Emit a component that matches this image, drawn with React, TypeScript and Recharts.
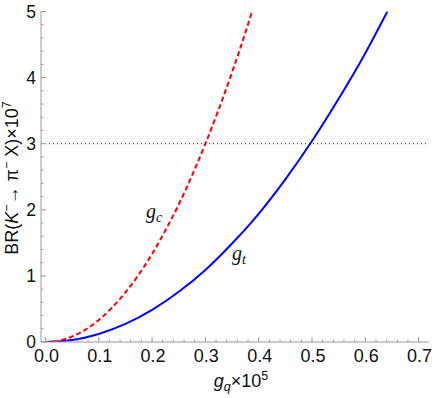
import React from 'react';
import { LineChart, Line, XAxis, YAxis, ReferenceLine, ReferenceDot } from 'recharts';

// g_c (red dashed) curve
const gcX = [0, 0.025, 0.05, 0.075, 0.1, 0.125, 0.15, 0.175, 0.2, 0.225, 0.25, 0.275, 0.3, 0.325, 0.35, 0.375, 0.3875];
const gcY = [0, 0.021, 0.083, 0.187, 0.333, 0.52, 0.75, 1.02, 1.33, 1.69, 2.08, 2.52, 3.0, 3.52, 4.08, 4.68, 5.0];

// g_t (blue solid) curve
const gtX = [0, 0.05, 0.1, 0.15, 0.2, 0.25, 0.3, 0.35, 0.4, 0.45, 0.5, 0.55, 0.6, 0.6415];
const gtY = [0, 0.03, 0.122, 0.273, 0.486, 0.76, 1.09, 1.49, 1.94, 2.46, 3.04, 3.68, 4.37, 5.0];

const refLevel = 3;

const xTicks = [0, 0.02, 0.04, 0.06, 0.08, 0.1, 0.12, 0.14, 0.16, 0.18, 0.2, 0.22, 0.24, 0.26, 0.28, 0.3, 0.32, 0.34, 0.36, 0.38, 0.4, 0.42, 0.44, 0.46, 0.48, 0.5, 0.52, 0.54, 0.56, 0.58, 0.6, 0.62, 0.64, 0.66, 0.68, 0.7];
const xMajorTicks = [0, 0.1, 0.2, 0.3, 0.4, 0.5, 0.6, 0.7];
const xMajorLabels = ['0.0', '0.1', '0.2', '0.3', '0.4', '0.5', '0.6', '0.7'];
const yTicks = [0, 0.2, 0.4, 0.6, 0.8, 1, 1.2, 1.4, 1.6, 1.8, 2, 2.2, 2.4, 2.6, 2.8, 3, 3.2, 3.4, 3.6, 3.8, 4, 4.2, 4.4, 4.6, 4.8, 5];
const yMajorTicks = [0, 1, 2, 3, 4, 5];
const yMajorLabels = ['0', '1', '2', '3', '4', '5'];

const xDomain = [-0.0084, 0.7195];
const yDomain = [0, 5];

const gcLabelPos = { x: 0.1886, y: 1.873 };
const gtLabelPos = { x: 0.35, y: 1.239 };

const gcData = gcX.map((x, i) => ({ x, y: gcY[i] }));
const gtData = gtX.map((x, i) => ({ x, y: gtY[i] }));

const FRAME = '#9a9a9a';
const SANS = '"Liberation Sans", Arial, sans-serif';
const SERIF = '"Liberation Serif", "Times New Roman", serif';
const MAJ = 5;
const MIN = 2.5;

const xMajorIndex = (v: number) => xMajorTicks.findIndex((t) => Math.abs(t - v) < 1e-6);
const yMajorIndex = (v: number) => yMajorTicks.findIndex((t) => Math.abs(t - v) < 1e-6);

const XTickBottom = (props: any) => {
  const { x, y, payload } = props;
  const idx = xMajorIndex(payload.value);
  const len = idx >= 0 ? MAJ : MIN;
  return (
    <g>
      <line x1={x} x2={x} y1={y} y2={y - len} stroke={FRAME} strokeWidth={1} />
      {idx >= 0 && (
        <text x={x + 1} y={y + 19.5} textAnchor="middle" fontFamily={SANS} fontSize={18} fill="#111">
          {xMajorLabels[idx]}
        </text>
      )}
    </g>
  );
};

const XTickTop = (props: any) => {
  const { x, y, payload } = props;
  const idx = xMajorIndex(payload.value);
  const len = idx >= 0 ? MAJ : MIN;
  return <line x1={x} x2={x} y1={y} y2={y + len} stroke={FRAME} strokeWidth={1} />;
};

const YTickLeft = (props: any) => {
  const { x, y, payload } = props;
  const idx = yMajorIndex(payload.value);
  const len = idx >= 0 ? MAJ : MIN;
  return (
    <g>
      <line x1={x} x2={x + len} y1={y} y2={y} stroke={FRAME} strokeWidth={1} />
      {idx >= 0 && (
        <text x={x - 5} y={y + 6} textAnchor="end" fontFamily={SANS} fontSize={17.5} fill="#111">
          {yMajorLabels[idx]}
        </text>
      )}
    </g>
  );
};

const YTickRight = (props: any) => {
  const { x, y, payload } = props;
  const idx = yMajorIndex(payload.value);
  const len = idx >= 0 ? MAJ : MIN;
  return <line x1={x} x2={x - len} y1={y} y2={y} stroke={FRAME} strokeWidth={1} />;
};

const YTitle = () => (
  <text transform="translate(17.5,178) rotate(-90)" textAnchor="middle" fontFamily={SANS} fontSize={18} fill="#111">
    BR(<tspan fontStyle="italic">K</tspan>
    <tspan dy={-7} fontSize={12.5}>−</tspan>
    <tspan dy={7}>→ π</tspan>
    <tspan dy={-7} fontSize={12.5}>−</tspan>
    <tspan dy={7}> X)×10</tspan>
    <tspan dy={-7} fontSize={12.5}>7</tspan>
  </text>
);

const XTitle = () => (
  <text x={241} y={387} textAnchor="middle" fontFamily={SANS} fontSize={18} fill="#111">
    <tspan fontStyle="italic">g</tspan>
    <tspan dy={4} fontSize={12.5} fontStyle="italic">q</tspan>
    <tspan dy={-4}>×10</tspan>
    <tspan dy={-7} fontSize={12.5}>5</tspan>
  </text>
);

const CurveLabel = (props: any) => {
  const vb = props.viewBox || {};
  return (
    <text x={vb.x} y={vb.y} fontFamily={SERIF} fontSize={20} fontStyle="italic" fill="#111">
      g<tspan dy={4} fontSize={14}>{props.sub}</tspan>
    </text>
  );
};

export default function App() {
  return (
    <div style={{ position: 'absolute', left: 0, top: 0, width: 436, height: 398, background: '#fff' }}>
      <LineChart width={436} height={398} margin={{ top: 11.5, right: 7, bottom: 0, left: 0 }}>
        <XAxis
          xAxisId={0}
          type="number"
          dataKey="x"
          domain={xDomain}
          allowDataOverflow
          ticks={xTicks}
          interval={0}
          tickSize={0}
          tickMargin={0}
          height={56}
          axisLine={{ stroke: FRAME }}
          tickLine={false}
          tick={<XTickBottom />}
          label={<XTitle />}
        />
        <XAxis
          xAxisId="top"
          orientation="top"
          type="number"
          dataKey="x"
          domain={xDomain}
          allowDataOverflow
          ticks={xTicks}
          interval={0}
          tickSize={0}
          tickMargin={0}
          height={0}
          axisLine={{ stroke: FRAME }}
          tickLine={false}
          tick={<XTickTop />}
        />
        <YAxis
          yAxisId={0}
          type="number"
          domain={yDomain}
          allowDataOverflow
          ticks={yTicks}
          interval={0}
          tickSize={0}
          tickMargin={0}
          width={41}
          axisLine={{ stroke: FRAME }}
          tickLine={false}
          tick={<YTickLeft />}
          label={<YTitle />}
        />
        <YAxis
          yAxisId="right"
          orientation="right"
          type="number"
          domain={yDomain}
          allowDataOverflow
          ticks={yTicks}
          interval={0}
          tickSize={0}
          tickMargin={0}
          width={0}
          axisLine={{ stroke: FRAME }}
          tickLine={false}
          tick={<YTickRight />}
        />
        <ReferenceLine y={refLevel} stroke="#222" strokeWidth={1} strokeDasharray="1 3" />
        <Line
          data={gtData}
          dataKey="y"
          type="monotone"
          stroke="#0000ff"
          strokeWidth={2}
          dot={false}
          isAnimationActive={false}
        />
        <Line
          data={gcData}
          dataKey="y"
          type="monotone"
          stroke="#ff0000"
          strokeWidth={2}
          strokeDasharray="5 3"
          dot={false}
          isAnimationActive={false}
        />
        <ReferenceDot x={gcLabelPos.x} y={gcLabelPos.y} r={0} fill="none" stroke="none" label={<CurveLabel sub="c" />} />
        <ReferenceDot x={gtLabelPos.x} y={gtLabelPos.y} r={0} fill="none" stroke="none" label={<CurveLabel sub="t" />} />
      </LineChart>
    </div>
  );
}
